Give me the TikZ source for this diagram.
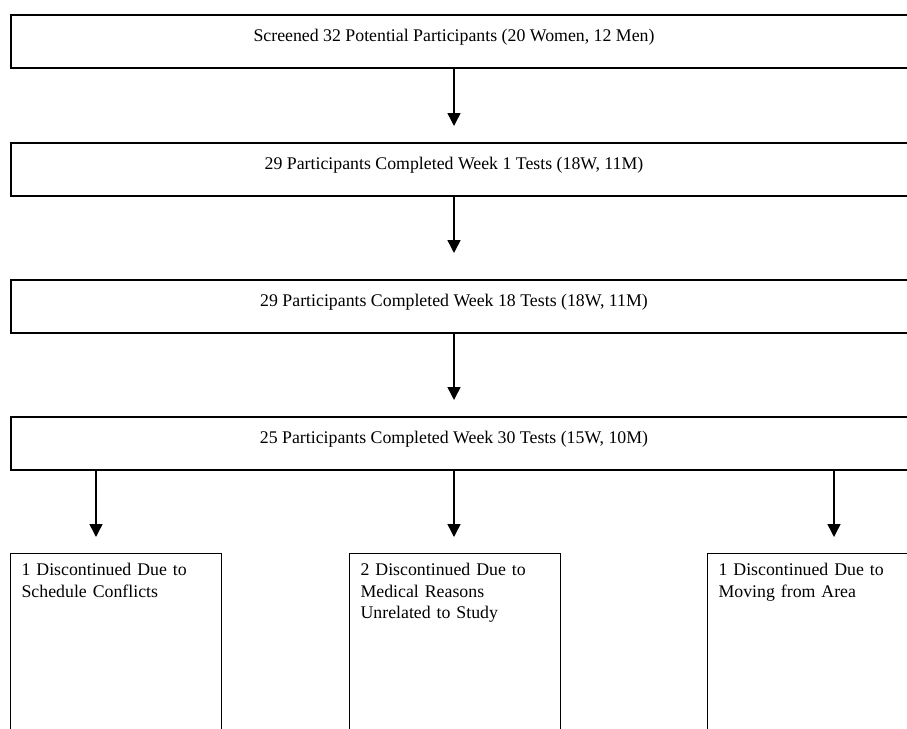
\documentclass[tikz,border=0pt]{standalone}
\usepackage{fontspec}
\setmainfont{Liberation Serif}
\usetikzlibrary{arrows.meta, positioning}
\tikzset{
	% wide stage box
	stage/.style={
		draw,
		line width=1.5pt,
		anchor=north west,
		minimum width=920pt,
		minimum height=53pt,
		inner sep=0pt
	}, %
	% stage text
	stagetext/.style={
		anchor=base,
		inner sep=0pt,
		font=\fontsize{17.8}{21.5}\selectfont
	}, %
	% drop-out box
	reason/.style={
		draw,
		line width=1.2pt,
		anchor=north west,
		text width=189pt,
		align=left,
		inner xsep=11pt,
		inner ysep=10pt,
		text depth=190pt,
		font=\fontsize{17.8}{21.5}\selectfont
	}, %
	flow/.style={
		-{Triangle[width=13pt, length=13pt]},
		line width=1.5pt
	}
}

\begin{document}
\begin{tikzpicture}[x=1pt, y=-1pt]
	\useasboundingbox (0,0) rectangle (907,728);
	\clip (0,0) rectangle (907,728);

	%% stages
	\node [stage] (s1) at (10,14) {};
	\node [stagetext] (t1) at (454,41) {Screened 32 Potential Participants (20 Women, 12 Men)};
	\node [stage] (s2) at (10,142) {};
	\node [stagetext] (t2) at (454,169) {29 Participants Completed Week 1 Tests (18W, 11M)};
	\node [stage] (s3) at (10,279) {};
	\node [stagetext] (t3) at (454,306) {29 Participants Completed Week 18 Tests (18W, 11M)};
	\node [stage] (s4) at (10,416) {};
	\node [stagetext] (t4) at (454,443) {25 Participants Completed Week 30 Tests (15W, 10M)};

	\draw [flow, shorten >=16pt] (s1.south -| t1.south) -- (s2.north -| t1.south);
	\draw [flow, shorten >=26pt] (s2.south -| t2.south) -- (s3.north -| t2.south);
	\draw [flow, shorten >=16pt] (s3.south -| t3.south) -- (s4.north -| t3.south);

	%% discontinued
	\node [reason] (r1) at (10,553) {1 Discontinued Due to\\Schedule Conflicts};
	\node [reason] (r2) at (349,553) {2 Discontinued Due to\\Medical Reasons\\Unrelated to Study};
	\node [reason] (r3) at (707,553) {1 Discontinued Due to\\Moving from Area};

	\coordinate (a1) at (96,553);
	\coordinate (a2) at (454,553);
	\coordinate (a3) at (834,553);
	\foreach \a in {a1, a2, a3} {
		\draw [flow, shorten >=16pt] (s4.south -| \a) -- (\a);
	}
\end{tikzpicture}
\end{document}
